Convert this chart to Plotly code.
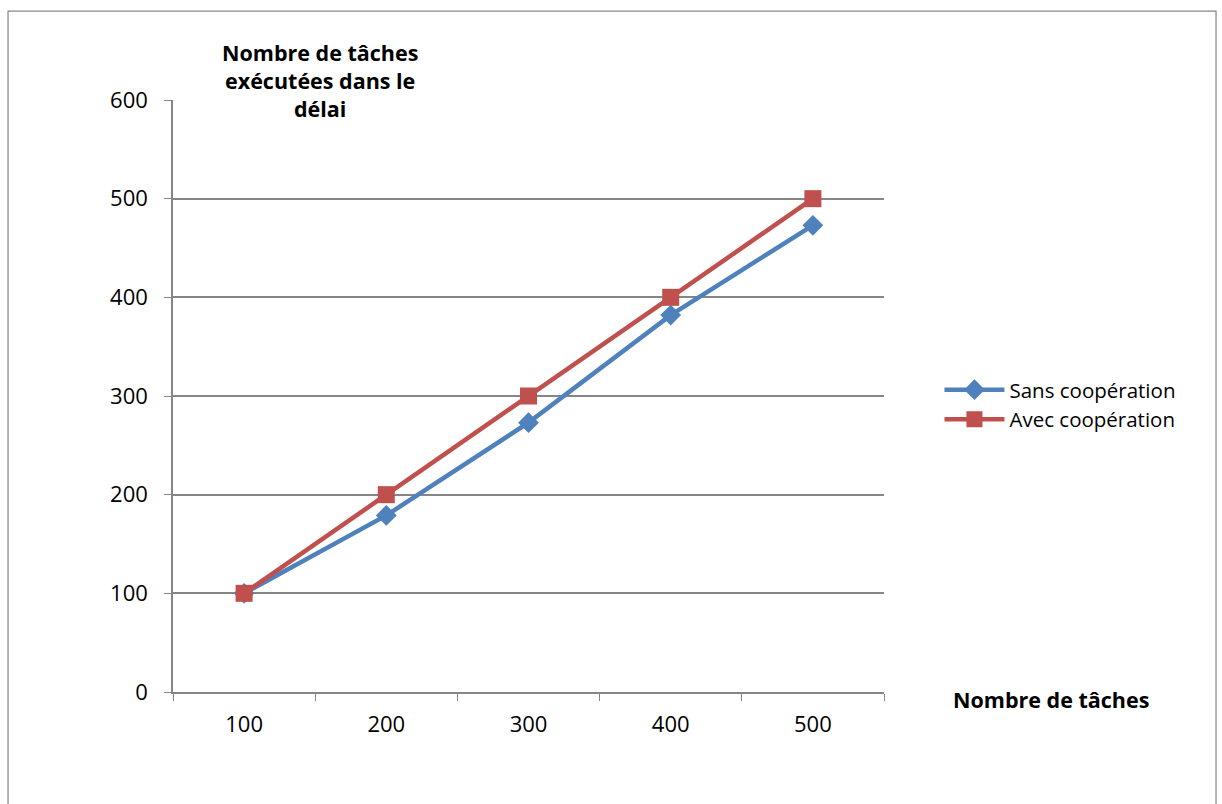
import plotly.graph_objects as go

# Task counts (category axis) and tasks completed within the deadline
categories = ["100", "200", "300", "400", "500"]
sans_coop = [100, 179, 273, 382, 473]
avec_coop = [100, 200, 300, 400, 500]
y_ticks = [0, 100, 200, 300, 400, 500, 600]

BLUE = "#4F81BD"
RED = "#C0504D"
GREY = "#868686"
FONT = "Open Sans, Liberation Sans, sans-serif"

fig = go.Figure()
fig.add_trace(go.Scatter(
    x=categories, y=sans_coop, name="Sans coopération",
    mode="lines+markers",
    line=dict(color=BLUE, width=4.5),
    marker=dict(symbol="diamond", size=16, color=BLUE),
))
fig.add_trace(go.Scatter(
    x=categories, y=avec_coop, name="Avec coopération",
    mode="lines+markers",
    line=dict(color=RED, width=4.5),
    marker=dict(symbol="square", size=17, color=RED),
))

fig.update_layout(
    width=1222, height=804,
    margin=dict(l=173, r=338, t=100, b=112),
    paper_bgcolor="white", plot_bgcolor="white",
    font=dict(family=FONT, size=18, color="black"),
    showlegend=True,
    legend=dict(
        x=1.078, y=0.485, xanchor="left", yanchor="middle",
        font=dict(size=20.5), tracegroupgap=0, itemwidth=60,
        bgcolor="rgba(0,0,0,0)",
    ),
    xaxis=dict(
        type="category", range=[-0.5, 4.5],
        tickson="boundaries", ticks="outside", ticklen=7, tickcolor=GREY,
        showline=True, linecolor=GREY, linewidth=1.5,
        showgrid=False, zeroline=False, ticklabelstandoff=12,
        tickfont=dict(size=22), fixedrange=True,
    ),
    yaxis=dict(
        range=[0, 600], tickvals=y_ticks,
        ticks="outside", ticklen=7, tickcolor=GREY,
        showline=True, linecolor=GREY, linewidth=1.5,
        showgrid=True, gridcolor=GREY, gridwidth=1.5,
        zeroline=False, ticklabelstandoff=12,
        tickfont=dict(size=22), fixedrange=True,
    ),
    annotations=[
        dict(text="<b>Nombre de tâches<br>exécutées dans le<br>délai</b>",
             xref="paper", yref="paper", x=0.207, y=1.033,
             xanchor="center", yanchor="middle", showarrow=False,
             font=dict(size=21.5), align="center"),
        dict(text="<b>Nombre de tâches</b>",
             xref="paper", yref="paper", x=1.235, y=-0.012,
             xanchor="center", yanchor="middle", showarrow=False,
             font=dict(size=21.5)),
    ],
    shapes=[
        dict(type="rect", xref="paper", yref="paper",
             x0=-0.232, x1=1.467, y0=-0.21, y1=1.150,
             line=dict(color=GREY, width=1.2), layer="below"),
    ],
)

fig.write_html("out.html")
